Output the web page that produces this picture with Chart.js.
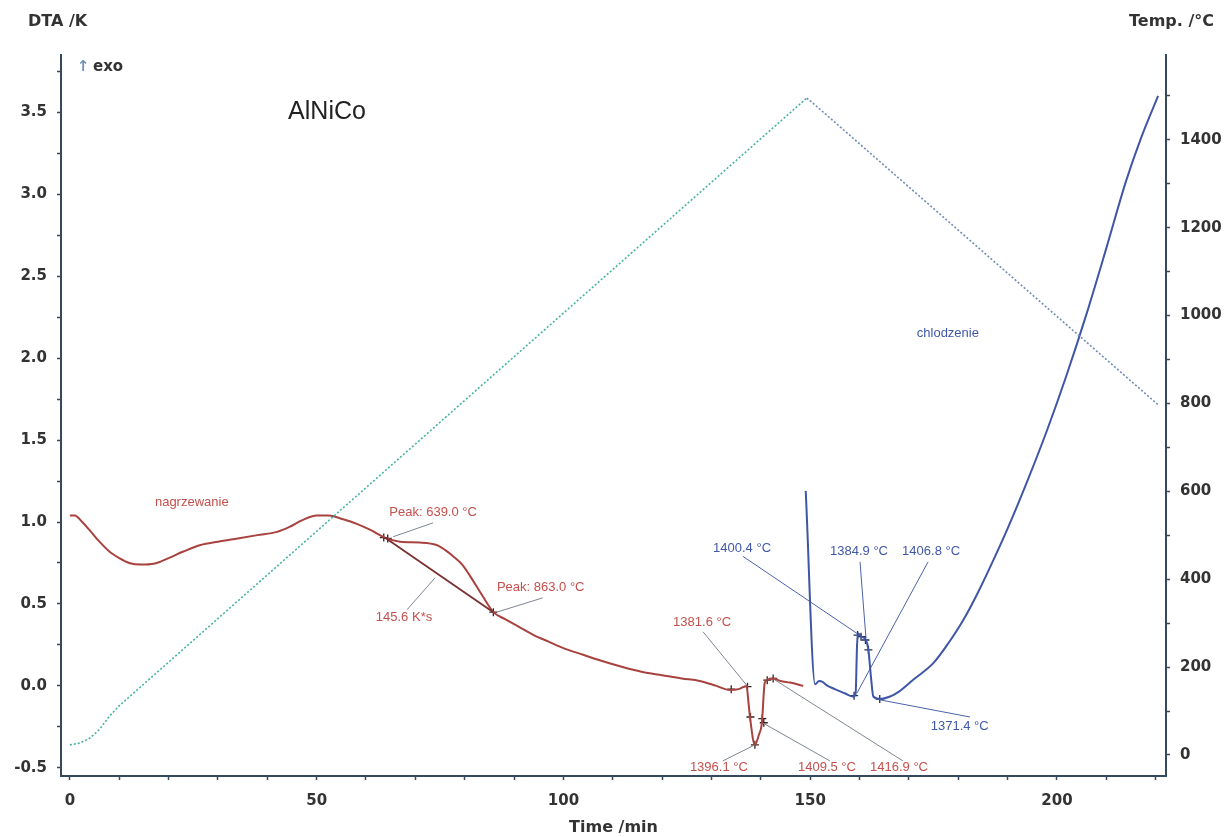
<!DOCTYPE html>
<html>
<head>
<meta charset="utf-8">
<script src="https://cdn.jsdelivr.net/npm/chart.js@4.4.1/dist/chart.umd.min.js"></script>
<style>
  html, body { margin: 0; padding: 0; background: #fff; }
  #wrap { width: 1231px; height: 837px; }
</style>
</head>
<body>
<div id="wrap"><canvas id="chart" width="1231" height="837"></canvas></div>
<script>
// AlNiCo – DTA, nagrzewanie / chłodzenie

// ─── DANE ─────────────────────────────────────────────
const heatTime = [0, 1, 2.5, 4, 6, 8, 10, 12, 14.5, 17, 20, 23, 26.5, 30, 34, 38, 42, 44.5, 47, 50,
  52.5, 55, 58, 61, 63.8, 66.9, 70.9, 74.3, 76, 77.7, 79.5, 81.1, 83.7, 85.8, 88, 91, 94, 97, 100,
  104, 108, 112, 116, 120, 124, 127.6, 131, 133.7, 135.5, 137.1, 137.5, 137.8, 138.8, 139.6, 140.2,
  140.8, 141.5, 142.5, 144, 145.9, 148.6];
const heatDta = [1.04, 1.04, 1.0, 0.95, 0.88, 0.82, 0.78, 0.75, 0.74, 0.745, 0.78, 0.82, 0.86, 0.88,
  0.9, 0.92, 0.94, 0.97, 1.01, 1.04, 1.04, 1.02, 0.99, 0.95, 0.905, 0.88, 0.875, 0.86, 0.83, 0.79,
  0.74, 0.67, 0.545, 0.45, 0.41, 0.36, 0.31, 0.27, 0.23, 0.19, 0.15, 0.115, 0.085, 0.065, 0.045,
  0.03, 0.0, -0.025, -0.02, 0.0, -0.1, -0.19, -0.36, -0.3, -0.23, 0.02, 0.04, 0.045, 0.03, 0.02, 0.0];

// linia bazowa piku (145.6 K*s)
const baseTime = [63.8, 85.8];
const baseDta = [0.905, 0.45];

const coolTime = [149.1, 151.0, 151.8, 152.5, 153.3, 155, 157, 158.7, 159.2, 159.5, 159.7, 160.4,
  161.3, 161.8, 162.3, 162.8, 164.1, 166.2, 168, 171, 175, 178, 181, 184, 187, 190, 194, 198,
  202, 206, 210, 214, 217, 220.5];
const coolDta = [1.19, 0.01, 0.03, 0.025, 0.005, -0.02, -0.045, -0.065, -0.05, 0.25, 0.32, 0.3,
  0.28, 0.22, 0.06, -0.065, -0.08, -0.065, -0.035, 0.04, 0.14, 0.26, 0.4, 0.57, 0.76, 0.96, 1.25,
  1.56, 1.9, 2.27, 2.67, 3.08, 3.34, 3.6];

// program temperatury
const progHeatTime = [0, 2, 4, 6, 8, 10, 148.6, 149.3];
const progHeatTemp = [23, 27, 38, 58, 88, 112, 1488, 1495];
const progCoolTime = [149.3, 150.1, 220.5];
const progCoolTemp = [1495, 1488, 797];

// znaczniki ewaluacji (+)
const markHeatTime = [63.6, 64.4, 85.8, 134, 137.3, 137.9, 138.8, 140.3, 140.6, 141.3, 142.5];
const markHeatDta = [0.905, 0.9, 0.45, -0.02, -0.005, -0.19, -0.36, -0.2, -0.225, 0.035, 0.045];
const markCoolTime = [159.6, 160.3, 161.2, 161.8, 158.9, 164.1];
const markCoolDta = [0.31, 0.3, 0.28, 0.22, -0.06, -0.08];

// etykiety osi
const xLabels = [0, 50, 100, 150, 200];
const yLabels = [-0.5, 0, 0.5, 1.0, 1.5, 2.0, 2.5, 3.0, 3.5];
const y2Labels = [0, 200, 400, 600, 800, 1000, 1200, 1400];

// opisy (czas, DTA)
const heatNotes = [
  ['nagrzewanie', 24.7, 1.12],
  ['Peak: 639.0 °C', 73.6, 1.056],
  ['Peak: 863.0 °C', 95.4, 0.6],
  ['145.6 K*s', 67.7, 0.42],
  ['1381.6 °C', 128.1, 0.39],
  ['1396.1 °C', 131.5, -0.5],
  ['1409.5 °C', 153.4, -0.5],
  ['1416.9 °C', 168.0, -0.5]
];
const coolNotes = [
  ['chlodzenie', 177.9, 2.15],
  ['1400.4 °C', 136.2, 0.836],
  ['1384.9 °C', 159.9, 0.82],
  ['1406.8 °C', 174.5, 0.82],
  ['1371.4 °C', 180.3, -0.25]
];
const heatLeaders = [
  [[65.5, 0.91], [73.6, 0.995]],
  [[86.5, 0.45], [95.8, 0.537]],
  [[74.0, 0.66], [68.3, 0.464]],
  [[128.3, 0.33], [137.4, -0.006]],
  [[132.3, -0.458], [138.8, -0.36]],
  [[154.0, -0.458], [140.4, -0.226]],
  [[168.8, -0.458], [142.5, 0.043]]
];
const coolLeaders = [
  [[136.4, 0.79], [159.5, 0.32]],
  [[160.1, 0.757], [161.3, 0.293]],
  [[173.9, 0.757], [159.5, -0.043]],
  [[164.1, -0.085], [182.4, -0.19]]
];


// ─── STYL ─────────────────────────────────────────────
const AXIS = '#34495e';
const TICK_FONT = { family: 'DejaVu Sans', size: 15, weight: 'bold' };
const RED = '#a8423f';
const RED_TXT = '#c4504c';
const BLUE = '#3f56a6';
const BLUE_TXT = '#4058a8';

const pts = (xs, ys) => xs.map((x, i) => ({ x, y: ys[i] }));
const isLabel = (list, v) => list.some(l => Math.abs(l - v) < 1e-6);

function curve(data, color, width, axis, extra) {
  return Object.assign({
    data, borderColor: color, borderWidth: width, yAxisID: axis,
    pointRadius: 0, fill: false, cubicInterpolationMode: 'monotone'
  }, extra || {});
}
const straight = { tension: 0, cubicInterpolationMode: 'default' };

const datasets = [
  curve(pts(progHeatTime, progHeatTemp), '#45b3a2', 1.6, 'y2', Object.assign({ borderDash: [2, 2] }, straight)),
  curve(pts(progCoolTime, progCoolTemp), '#6f8cb8', 1.6, 'y2', Object.assign({ borderDash: [2, 2] }, straight)),
  curve(pts(baseTime, baseDta), '#7a3030', 1.8, 'y', straight),
  curve(pts(heatTime, heatDta), RED, 2, 'y'),
  curve(pts(coolTime, coolDta), BLUE, 2, 'y')
];

heatLeaders.forEach(l => datasets.push(curve(l.map(p => ({ x: p[0], y: p[1] })), '#7d8690', 1, 'y', straight)));
coolLeaders.forEach(l => datasets.push(curve(l.map(p => ({ x: p[0], y: p[1] })), '#4a62aa', 1, 'y', straight)));

datasets.push({
  data: pts(markHeatTime, markHeatDta), yAxisID: 'y', showLine: false,
  pointStyle: 'cross', pointRadius: 4, pointBorderColor: '#3a2020', pointBorderWidth: 1.3
});
datasets.push({
  data: pts(markCoolTime, markCoolDta), yAxisID: 'y', showLine: false,
  pointStyle: 'cross', pointRadius: 4, pointBorderColor: '#1f2a55', pointBorderWidth: 1.3
});


// ─── TEKSTY ───────────────────────────────────────────
const textPlugin = {
  id: 'texts',
  afterDraw(chart) {
    const { ctx, chartArea, scales: { x, y } } = chart;
    ctx.save();
    ctx.textBaseline = 'middle';

    ctx.fillStyle = '#333';
    ctx.font = 'bold 16px "DejaVu Sans"';
    ctx.textAlign = 'left';
    ctx.fillText('DTA /K', 28, 22);
    ctx.textAlign = 'right';
    ctx.fillText('Temp. /°C', 1214, 22);
    ctx.textAlign = 'center';
    ctx.fillText('Time /min', (chartArea.left + chartArea.right) / 2, 828);

    ctx.textAlign = 'left';
    ctx.font = 'bold 15px "DejaVu Sans"';
    ctx.fillStyle = '#7391b4';
    ctx.fillText('↑', 77, 67);
    ctx.fillStyle = '#333';
    ctx.fillText('exo', 93, 67);

    ctx.textAlign = 'center';
    ctx.font = '25px "Liberation Sans"';
    ctx.fillStyle = '#222';
    ctx.fillText('AlNiCo', x.getPixelForValue(52.1), y.getPixelForValue(3.5));

    ctx.font = '13px "Liberation Sans"';
    ctx.fillStyle = RED_TXT;
    heatNotes.forEach(([t, tx, ty]) => ctx.fillText(t, x.getPixelForValue(tx), y.getPixelForValue(ty)));
    ctx.fillStyle = BLUE_TXT;
    coolNotes.forEach(([t, tx, ty]) => ctx.fillText(t, x.getPixelForValue(tx), y.getPixelForValue(ty)));
    ctx.restore();
  }
};


// ─── WYKRES ───────────────────────────────────────────
const tickGrid = { drawOnChartArea: false, drawTicks: true, tickLength: 4, tickColor: AXIS, tickWidth: 1.5 };
const border = { display: true, color: AXIS, width: 2 };

new Chart(document.getElementById('chart'), {
  type: 'line',
  data: { datasets },
  options: {
    responsive: false,
    animation: false,
    layout: { padding: { top: 55, left: 0, right: 0, bottom: 0 } },
    plugins: { legend: { display: false }, tooltip: { enabled: false } },
    scales: {
      x: {
        type: 'linear', min: -1.8, max: 222.1,
        grid: tickGrid, border,
        ticks: {
          stepSize: 10, autoSkip: false, includeBounds: false, maxRotation: 0,
          font: TICK_FONT, color: '#333', padding: 12,
          callback: v => isLabel(xLabels, v) ? String(v) : ''
        },
        afterFit: s => { s.height = 61; }
      },
      y: {
        type: 'linear', position: 'left', min: -0.55, max: 3.85,
        grid: tickGrid, border,
        ticks: {
          stepSize: 0.25, autoSkip: false, includeBounds: false,
          font: TICK_FONT, color: '#333', padding: 10,
          callback: v => isLabel(yLabels, v) ? v.toFixed(1) : ''
        },
        afterFit: s => { s.width = 61; }
      },
      y2: {
        type: 'linear', position: 'right', min: -47.8, max: 1593,
        grid: tickGrid, border,
        ticks: {
          stepSize: 100, autoSkip: false, includeBounds: false,
          font: TICK_FONT, color: '#333', padding: 10,
          callback: v => isLabel(y2Labels, v) ? String(v) : ''
        },
        afterFit: s => { s.width = 65; }
      }
    }
  },
  plugins: [textPlugin]
});
</script>
</body>
</html>
